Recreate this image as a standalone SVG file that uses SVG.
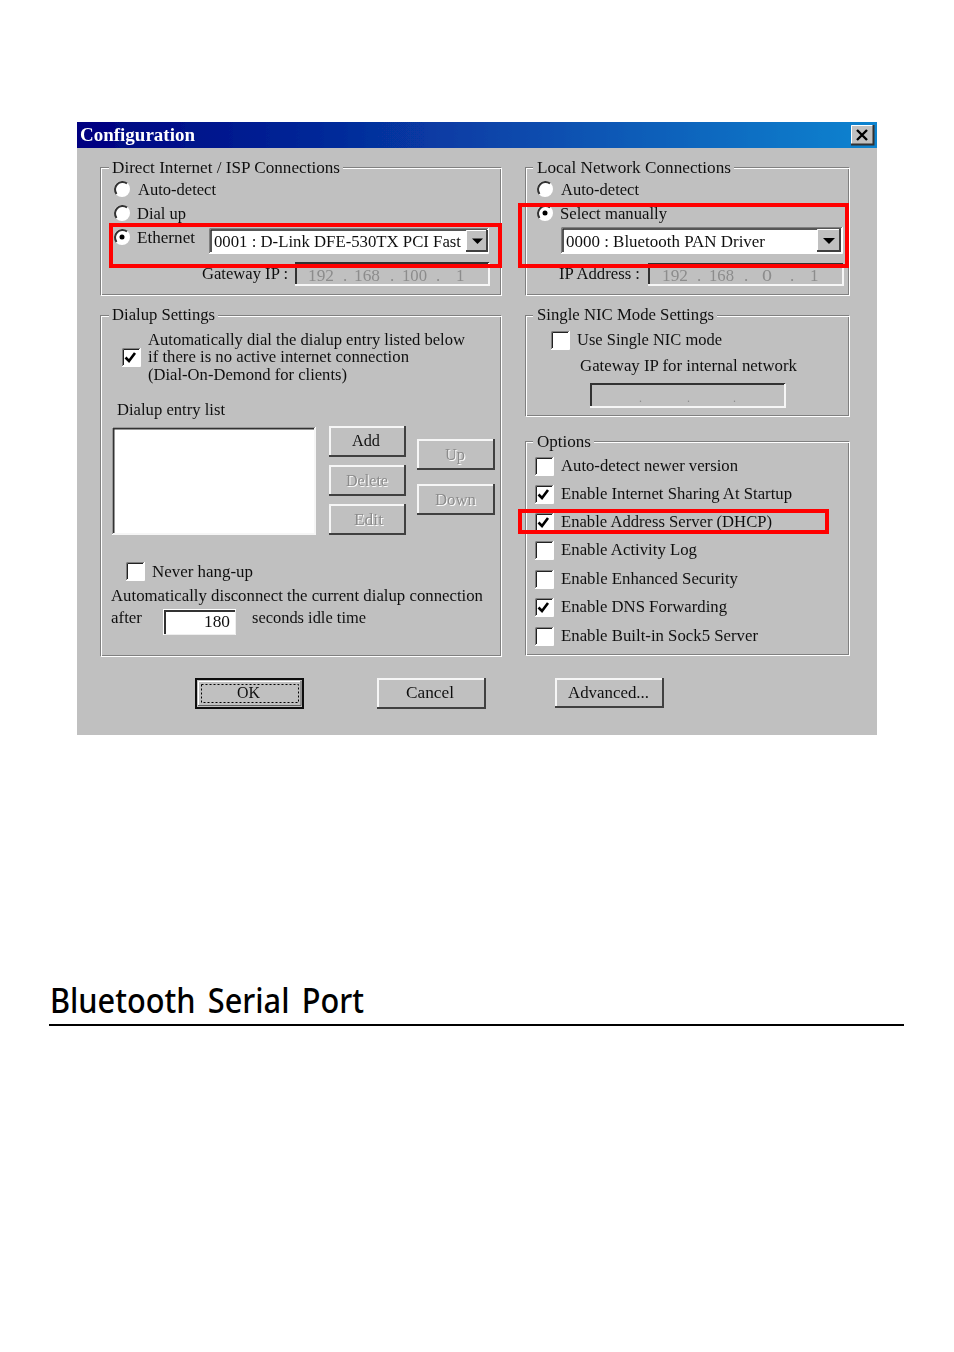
<svg xmlns="http://www.w3.org/2000/svg" width="954" height="1352" viewBox="0 0 954 1352">
<style>
text{font-family:"Liberation Serif","Times New Roman",serif;font-size:17px;fill:#111}
.e{fill:none;stroke:#808080;stroke-width:1}
.w{fill:none;stroke:#fff;stroke-width:1}
.lg{fill:#c0c0c0}
.dk{fill:none;stroke:#303030;stroke-width:2}
.gr{fill:none;stroke:#808080;stroke-width:1}
.lt{fill:none;stroke:#f6f6f6;stroke-width:2}
.sd{fill:none;stroke:#404040;stroke-width:2}
.bf{fill:#c0c0c0}
.wf{fill:#fff}
.off{fill:#8c8c8c}
.sh{fill:#fff}
.red{fill:none;stroke:#f00;stroke-width:4}
.ck{fill:none;stroke:#000;stroke-width:2.600}
</style>
<defs>
<linearGradient id="tb" x1="0" x2="1" y1="0" y2="0"><stop offset="0" stop-color="#000080"/><stop offset="1" stop-color="#1084d0"/></linearGradient>
<filter id="soft" x="0" y="0" width="1" height="1"><feGaussianBlur stdDeviation="0.35"/></filter>
<g id="cb"><rect class="wf" x="0" y="0" width="18" height="18"/><path class="gr" d="M.5 18V.5H18"/><path d="M1.500 17V1.500H17" fill="none" stroke="#202020"/><path d="M0 18.500H18.500V0" fill="none" stroke="#fff"/></g>
<g id="rd"><circle class="wf" cx="0" cy="0" r="8"/><path d="M5 -5.500A7.500 7.500 0 0 0 -5.500 5" fill="none" stroke="#303030" stroke-width="2"/></g>
</defs>
<rect width="954" height="1352" fill="#fff"/>
<g id="window" filter="url(#soft)">
<rect x="77" y="122" width="800" height="613" fill="#c0c0c0"/>
<rect id="titlebar" x="77" y="122" width="800" height="26" fill="url(#tb)"/>
<text x="80" y="141" textLength="115" lengthAdjust="spacingAndGlyphs" font-weight="700" style="fill:#fff;font-size:18px">Configuration</text>
<g id="close"><rect x="851" y="125" width="23" height="20" fill="#c0c0c0"/><path d="M851.500 145V125.500H874" class="w"/><path d="M851 144.500H873.500V125" fill="none" stroke="#303030" stroke-width="2"/><path d="M857 130L867 140M867 130L857 140" stroke="#000" stroke-width="2.400"/></g>

<g id="group-direct">
<rect class="e" x="100.500" y="167.500" width="400" height="127"/><rect class="w" x="101.500" y="168.500" width="400" height="127"/>
<rect class="lg" x="109" y="160" width="234" height="14"/>
<text x="112" y="173" textLength="228" lengthAdjust="spacingAndGlyphs">Direct Internet / ISP  Connections</text>
<use href="#rd" x="122" y="189"/><text x="138" y="195" textLength="78" lengthAdjust="spacingAndGlyphs">Auto-detect</text>
<use href="#rd" x="122" y="213"/><text x="137" y="219" textLength="49" lengthAdjust="spacingAndGlyphs">Dial up</text>
<use href="#rd" x="122" y="237"/><circle cx="122" cy="237" r="2.500" fill="#000"/><text x="137" y="243" textLength="58" lengthAdjust="spacingAndGlyphs">Ethernet</text>
<text x="202" y="279" textLength="86" lengthAdjust="spacingAndGlyphs">Gateway IP :</text>
<g id="gateway-field"><rect class="bf" x="295" y="262" width="194" height="23"/><path class="dk" d="M296 285V263H489"/><path class="lt" d="M295 285H489V263"/>
<text class="off" x="308" y="281" textLength="26" lengthAdjust="spacingAndGlyphs">192</text><text class="off" x="343" y="281">.</text><text class="off" x="354" y="281" textLength="26" lengthAdjust="spacingAndGlyphs">168</text><text class="off" x="390" y="281">.</text><text class="off" x="402" y="281" textLength="25" lengthAdjust="spacingAndGlyphs">100</text><text class="off" x="436" y="281">.</text><text class="off" x="456" y="281">1</text></g>
<g id="combo-ethernet"><rect class="wf" x="209" y="228" width="279" height="25"/><path class="gr" d="M209.500 253V228.500H488"/><path d="M211 252V230H487" fill="none" stroke="#202020" stroke-width="1.500"/><path class="w" d="M209 253.500H488.500V228"/>
<text x="214" y="247" textLength="247" lengthAdjust="spacingAndGlyphs">0001 : D-Link DFE-530TX PCI Fast</text>
<rect class="bf" x="466" y="230" width="22" height="22"/><path class="w" d="M466.500 252V230.500H487"/><path class="sd" d="M466 251H487V230"/><path d="M472 238.500H483L477.500 244Z" fill="#000"/></g>
</g>

<g id="group-local">
<rect class="e" x="525.500" y="167.500" width="323" height="127"/><rect class="w" x="526.500" y="168.500" width="323" height="127"/>
<rect class="lg" x="533" y="160" width="201" height="14"/>
<text x="537" y="173" textLength="194" lengthAdjust="spacingAndGlyphs">Local Network  Connections</text>
<use href="#rd" x="545" y="189"/><text x="561" y="195" textLength="78" lengthAdjust="spacingAndGlyphs">Auto-detect</text>
<use href="#rd" x="545" y="213"/><circle cx="545" cy="213" r="2.500" fill="#000"/><text x="560" y="219" textLength="107" lengthAdjust="spacingAndGlyphs">Select manually</text>
<text x="559" y="279" textLength="81" lengthAdjust="spacingAndGlyphs">IP Address :</text>
<g id="ip-field"><rect class="bf" x="648" y="263" width="195" height="22"/><path class="dk" d="M649 285V264H843"/><path class="lt" d="M648 285H843V264"/>
<text class="off" x="662" y="281" textLength="26" lengthAdjust="spacingAndGlyphs">192</text><text class="off" x="697" y="281">.</text><text class="off" x="709" y="281" textLength="25" lengthAdjust="spacingAndGlyphs">168</text><text class="off" x="744" y="281">.</text><text class="off" x="762" y="281" textLength="10" lengthAdjust="spacingAndGlyphs">0</text><text class="off" x="790" y="281">.</text><text class="off" x="810" y="281">1</text></g>
<g id="combo-pan"><rect class="wf" x="561" y="227" width="281" height="26"/><path class="gr" d="M561.500 253V227.500H842"/><path d="M563 252V229H841" fill="none" stroke="#202020" stroke-width="1.500"/><path class="w" d="M561 253.500H842.500V227"/>
<text x="566" y="247" textLength="199" lengthAdjust="spacingAndGlyphs">0000 : Bluetooth PAN Driver</text>
<rect class="bf" x="817" y="229" width="24" height="23"/><path class="w" d="M817.500 252V229.500H840"/><path class="sd" d="M817 251H840V229"/><path d="M823 238H835L829 244Z" fill="#000"/></g>
</g>

<g id="group-dialup">
<rect class="e" x="100.500" y="315.500" width="400" height="340"/><rect class="w" x="101.500" y="316.500" width="400" height="340"/>
<rect class="lg" x="109" y="308" width="109" height="14"/>
<text x="112" y="320" textLength="103" lengthAdjust="spacingAndGlyphs">Dialup Settings</text>
<use href="#cb" x="122" y="348"/><path class="ck" d="M125.500 357.500L129 361L135 353"/>
<text x="148" y="345" textLength="317" lengthAdjust="spacingAndGlyphs">Automatically dial the dialup entry listed below</text>
<text x="148" y="362" textLength="261" lengthAdjust="spacingAndGlyphs">if there is no active internet connection</text>
<text x="148" y="380" textLength="199" lengthAdjust="spacingAndGlyphs">(Dial-On-Demond for clients)</text>
<text x="117" y="415" textLength="108" lengthAdjust="spacingAndGlyphs">Dialup entry list</text>
<g id="entry-list"><rect class="wf" x="112" y="427" width="204" height="108"/><path class="dk" d="M113.500 534V428.500H315"/><path class="lt" d="M113 534H315V428"/></g>
<g id="btn-add"><rect class="bf" x="329" y="426" width="77" height="31"/><path class="lt" d="M330 456V427H405"/><path class="sd" d="M329 456H405V426"/><text x="352" y="446" textLength="28" lengthAdjust="spacingAndGlyphs">Add</text></g>
<g id="btn-delete"><rect class="bf" x="329" y="465" width="77" height="31"/><path class="lt" d="M330 495V466H405"/><path class="sd" d="M329 495H405V465"/><text class="sh" x="347" y="487" textLength="42" lengthAdjust="spacingAndGlyphs">Delete</text><text class="off" x="346" y="486" textLength="42" lengthAdjust="spacingAndGlyphs">Delete</text></g>
<g id="btn-edit"><rect class="bf" x="329" y="504" width="77" height="31"/><path class="lt" d="M330 534V505H405"/><path class="sd" d="M329 534H405V504"/><text class="sh" x="355" y="526" textLength="29" lengthAdjust="spacingAndGlyphs">Edit</text><text class="off" x="354" y="525" textLength="29" lengthAdjust="spacingAndGlyphs">Edit</text></g>
<g id="btn-up"><rect class="bf" x="417" y="439" width="78" height="31"/><path class="lt" d="M418 469V440H494"/><path class="sd" d="M417 469H494V439"/><text class="sh" x="446" y="461" textLength="20" lengthAdjust="spacingAndGlyphs">Up</text><text class="off" x="445" y="460" textLength="20" lengthAdjust="spacingAndGlyphs">Up</text></g>
<g id="btn-down"><rect class="bf" x="417" y="484" width="78" height="31"/><path class="lt" d="M418 514V485H494"/><path class="sd" d="M417 514H494V484"/><text class="sh" x="436" y="506" textLength="41" lengthAdjust="spacingAndGlyphs">Down</text><text class="off" x="435" y="505" textLength="41" lengthAdjust="spacingAndGlyphs">Down</text></g>
<use href="#cb" x="126" y="562"/><text x="152" y="577" textLength="101" lengthAdjust="spacingAndGlyphs">Never hang-up</text>
<text x="111" y="601" textLength="372" lengthAdjust="spacingAndGlyphs">Automatically disconnect the current dialup connection</text>
<text x="111" y="623" textLength="31" lengthAdjust="spacingAndGlyphs">after</text>
<g id="idle-field"><rect class="wf" x="163" y="609" width="73" height="26"/><path class="dk" d="M165 634V611H235"/><path d="M164 634.500H235.500V610" fill="none" stroke="#eee"/><text x="204" y="627" textLength="26" lengthAdjust="spacingAndGlyphs">180</text></g>
<text x="252" y="623" textLength="114" lengthAdjust="spacingAndGlyphs">seconds idle time</text>
</g>

<g id="group-nic">
<rect class="e" x="525.500" y="315.500" width="323" height="100"/><rect class="w" x="526.500" y="316.500" width="323" height="100"/>
<rect class="lg" x="533" y="308" width="184" height="14"/>
<text x="537" y="320" textLength="177" lengthAdjust="spacingAndGlyphs">Single NIC Mode Settings</text>
<use href="#cb" x="551" y="331"/><text x="577" y="345" textLength="145" lengthAdjust="spacingAndGlyphs">Use Single NIC mode</text>
<text x="580" y="371" textLength="217" lengthAdjust="spacingAndGlyphs">Gateway IP for internal network</text>
<g id="nic-field"><rect class="bf" x="590" y="383" width="195" height="24"/><path class="dk" d="M591 407V384H785"/><path class="lt" d="M590 407H785V384"/><text class="off" x="639" y="402" style="font-size:12px">.</text><text class="off" x="687" y="402" style="font-size:12px">.</text><text class="off" x="733" y="402" style="font-size:12px">.</text></g>
</g>

<g id="group-options">
<rect class="e" x="525.500" y="441.500" width="323" height="213"/><rect class="w" x="526.500" y="442.500" width="323" height="213"/>
<rect class="lg" x="533" y="434" width="61" height="14"/>
<text x="537" y="447" textLength="54" lengthAdjust="spacingAndGlyphs">Options</text>
<use href="#cb" x="535" y="457"/><text x="561" y="471" textLength="177" lengthAdjust="spacingAndGlyphs">Auto-detect newer version</text>
<use href="#cb" x="535" y="485"/><path class="ck" d="M538.500 494.500L542 498L548 490"/><text x="561" y="499" textLength="231" lengthAdjust="spacingAndGlyphs">Enable Internet Sharing At Startup</text>
<use href="#cb" x="535" y="513"/><path class="ck" d="M538.500 522.500L542 526L548 518"/><text x="561" y="527" textLength="211" lengthAdjust="spacingAndGlyphs">Enable Address Server (DHCP)</text>
<use href="#cb" x="535" y="541"/><text x="561" y="555" textLength="136" lengthAdjust="spacingAndGlyphs">Enable Activity Log</text>
<use href="#cb" x="535" y="570"/><text x="561" y="584" textLength="177" lengthAdjust="spacingAndGlyphs">Enable Enhanced Security</text>
<use href="#cb" x="535" y="598"/><path class="ck" d="M538.500 607.500L542 611L548 603"/><text x="561" y="612" textLength="166" lengthAdjust="spacingAndGlyphs">Enable DNS Forwarding</text>
<use href="#cb" x="535" y="627"/><text x="561" y="641" textLength="197" lengthAdjust="spacingAndGlyphs">Enable Built-in Sock5 Server</text>
</g>

<g id="btn-ok"><rect x="196" y="679" width="107" height="29" fill="#c0c0c0" stroke="#101010" stroke-width="2"/><path class="w" d="M198.500 705V681.500H300"/><path d="M198 705.500H301V681" fill="none" stroke="#606060"/><rect x="201.500" y="684.500" width="97" height="18" fill="none" stroke="#000" stroke-dasharray="2 2"/><text x="237" y="698" textLength="23" lengthAdjust="spacingAndGlyphs">OK</text></g>
<g id="btn-cancel"><rect class="bf" x="377" y="678" width="109" height="31"/><path class="lt" d="M378 708V679H485"/><path class="sd" d="M377 708H485V678"/><text x="406" y="698" textLength="48" lengthAdjust="spacingAndGlyphs">Cancel</text></g>
<g id="btn-advanced"><rect class="bf" x="555" y="678" width="109" height="30"/><path class="lt" d="M556 707V679H663"/><path class="sd" d="M555 707H663V678"/><text x="568" y="698" textLength="81" lengthAdjust="spacingAndGlyphs">Advanced...</text></g>
</g>

<g id="highlights">
<rect class="red" x="111" y="225" width="389" height="41"/>
<rect class="red" x="520" y="205" width="327" height="61"/>
<rect class="red" x="520" y="511" width="307" height="21"/>
</g>

<g id="heading">
<text x="50" y="1013" textLength="314" lengthAdjust="spacingAndGlyphs" style="font-family:'Noto Sans','DejaVu Sans',sans-serif;font-size:35px;font-weight:500;word-spacing:5px;fill:#000">Bluetooth Serial Port</text>
<rect x="49" y="1024" width="855" height="2" fill="#000"/>
</g>
</svg>
